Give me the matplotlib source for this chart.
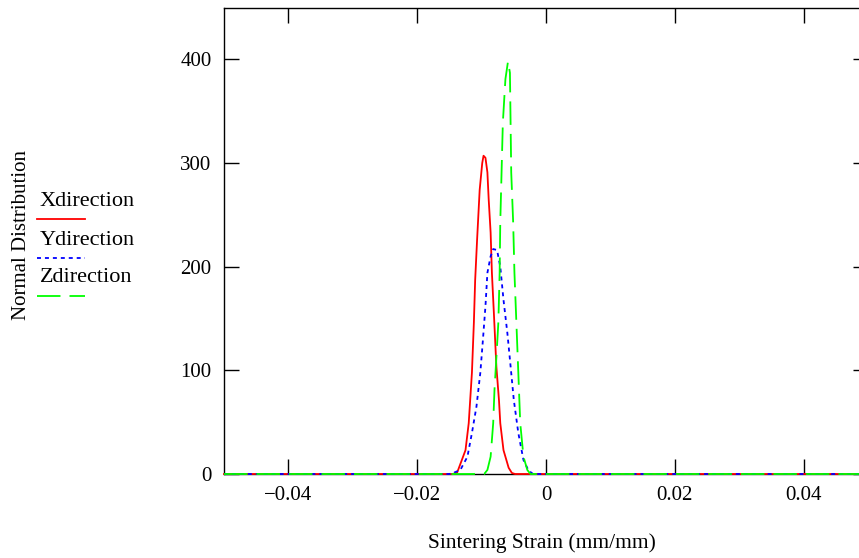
import matplotlib
matplotlib.use("Agg")
import matplotlib.pyplot as plt
from matplotlib.lines import Line2D

plt.rcParams["font.family"] = ["Liberation Serif", "DejaVu Serif"]

# strain values (mm/mm) and normal distribution values
x_strain = [-0.05, -0.0145, -0.0138, -0.0125, -0.0120, -0.0115, -0.0112, -0.0110,
            -0.0107, -0.0103, -0.0099, -0.0097, -0.0094, -0.0091, -0.0089,
            -0.0086, -0.0084, -0.0081, -0.0077, -0.0073, -0.0071, -0.0066,
            -0.0058, -0.0053, -0.0048, 0.05]
x_dist = [0, 0, 1.3, 23, 49, 98, 146, 187, 226, 274, 300, 307, 305, 291, 265,
          233, 194, 156, 103, 71, 49, 23, 6, 1, 0, 0]

y_strain = [-0.05, -0.0150, -0.0143, -0.0133, -0.0122, -0.0115, -0.0108, -0.0102,
            -0.0098, -0.0094, -0.0091, -0.0086, -0.0082, -0.0076, -0.0071,
            -0.0066, -0.0060, -0.0055, -0.0050, -0.0043, -0.0035, -0.0027,
            -0.0020, 0.05]
y_dist = [0, 0, 1.3, 3.9, 16.7, 39.6, 65, 97.6, 129, 162, 194, 210, 217, 216,
          200, 168, 136, 104, 71.5, 39.6, 13.5, 3.2, 0, 0]

z_strain = [-0.05, -0.0096, -0.0091, -0.0086, -0.0082, -0.0080, -0.0077, -0.0074,
            -0.0072, -0.0071, -0.0069, -0.0067, -0.0063, -0.0059, -0.0056,
            -0.0055, -0.0054, -0.0051, -0.0049, -0.0046, -0.0043, -0.0040,
            -0.0035, -0.0029, -0.0024, 0.05]
z_dist = [0, 0, 3.9, 16.7, 49, 81, 113, 146, 194, 243, 291, 339, 381, 398, 387,
          339, 291, 243, 194, 146, 98, 49, 16.7, 3.9, 0, 0]

xticks = [-0.04, -0.02, 0, 0.02, 0.04]
xtick_labels = ["\u22120.04", "\u22120.02", "0", "0.02", "0.04"]
yticks = [0, 100, 200, 300, 400]

fig = plt.figure(figsize=(8.59, 5.58), dpi=100)
ax = fig.add_axes([224 / 859, 1 - 474 / 558, 644 / 859, 466.5 / 558])

ax.plot(x_strain, x_dist, color="#ff0000", lw=1.3, clip_on=False, zorder=3)
ax.plot(y_strain, y_dist, color="#0000ff", lw=1.3, dashes=(2.2, 2.2),
        clip_on=False, zorder=3)
ax.plot(z_strain, z_dist, color="#00ff00", lw=1.3, dashes=(13, 5),
        clip_on=False, zorder=3)

ax.set_xlim(-0.05, 0.05)
ax.set_ylim(0, 450)
ax.set_xticks(xticks)
ax.set_xticklabels(xtick_labels)
ax.set_yticks(yticks)
ax.tick_params(direction="in", length=11, width=1, top=True, right=True,
               labelsize=15, colors="black")
ax.tick_params(axis="x", pad=9)
ax.tick_params(axis="y", pad=9)
for s in ax.spines.values():
    s.set_linewidth(1)

fig.text(542 / 859, 1 - 543 / 558, "Sintering Strain (mm/mm)", fontsize=15.5,
         ha="center", va="center")
fig.text(22 / 859, 1 - 235 / 558, "Normal Distribution", fontsize=15,
         rotation=90, ha="center", va="center")

# legend on the left
labels = ["Xdirection", "Ydirection", "Zdirection"]
text_y = [201, 240, 278]
line_y = [219, 258, 296]
styles = [dict(color="#ff0000"), dict(color="#0000ff", dashes=(2.2, 2.2)),
          dict(color="#00ff00", dashes=(13, 5))]
for lab, ty, ly, st in zip(labels, text_y, line_y, styles):
    fig.text(40 / 859, 1 - ty / 558, lab, fontsize=16, ha="left", va="center")
    fig.add_artist(Line2D([37 / 859, 85 / 859], [1 - ly / 558, 1 - ly / 558],
                          lw=1.3, transform=fig.transFigure, **st))

fig.savefig("out.png", dpi=100)
